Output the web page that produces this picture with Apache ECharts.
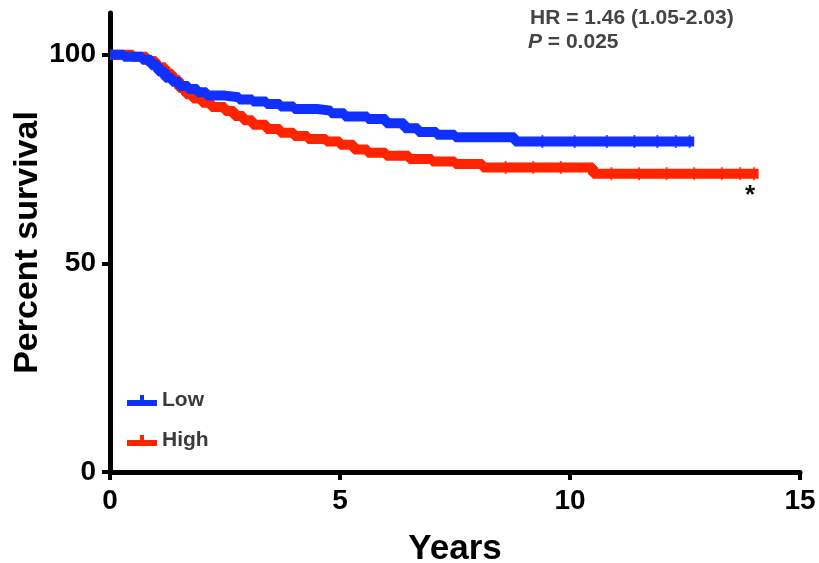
<!DOCTYPE html>
<html>
<head>
<meta charset="utf-8">
<script src="https://cdn.jsdelivr.net/npm/echarts@6/dist/echarts.min.js"></script>
<style>
  html, body { margin: 0; padding: 0; background: #fff; }
  #chart { width: 819px; height: 563px; }
</style>
</head>
<body>
<div id="chart"></div>
<script>
// survival curves (years, percent)
const lowTimes = [0, 0.3, 0.7, 0.9, 1.05, 1.2, 1.35, 1.5, 1.7, 1.9, 2.1, 2.5, 2.8, 3.1, 3.4, 3.7, 4.0, 4.5, 4.8, 5.1, 5.6, 6.0, 6.4, 6.7, 7.1, 7.5, 8.8, 12.7];
const lowSurv  = [100, 99.5, 98.8, 97.5, 96, 94.5, 93.5, 92.5, 91.8, 91, 90.2, 89.8, 89.3, 88.8, 88.2, 87.6, 87.0, 86.6, 86.0, 85.2, 84.6, 83.6, 82.4, 81.5, 80.8, 80.2, 79.2, 79.2];
const highTimes = [0, 0.5, 0.8, 1.0, 1.2, 1.35, 1.5, 1.65, 1.8, 2.0, 2.2, 2.5, 2.7, 2.9, 3.1, 3.4, 3.7, 4.0, 4.3, 4.7, 5.0, 5.3, 5.6, 6.0, 6.5, 7.0, 7.5, 8.1, 10.5, 14.1];
const highSurv  = [100, 99.5, 98.5, 97, 95.5, 94, 92, 90.5, 89.5, 88.5, 87.5, 86.5, 85.3, 84.3, 83.2, 82.2, 81.3, 80.5, 79.8, 79.2, 78.4, 77.3, 76.5, 75.8, 75.0, 74.4, 73.8, 73.0, 71.5, 71.5];
// censoring ticks (years)
const lowCensor  = [9.4, 10.1, 10.8, 11.4, 11.9, 12.3, 12.6];
const highCensor = [8.6, 9.2, 9.8, 10.9, 11.5, 12.1, 12.7, 13.3, 13.7, 14.0];
const xTicks = [0, 5, 10, 15];
const yTicks = [0, 50, 100];

const BLUE = '#1030ff';
const RED = '#ff2400';
const FONT = '"Liberation Sans", Arial, Helvetica, sans-serif';

function pairs(t, s) {
  return t.map((v, i) => [v, s[i]]);
}
function survAt(t, s, x) {
  let k = 0;
  for (let i = 0; i < t.length; i++) if (t[i] <= x) k = i;
  return s[k];
}
function censorPts(t, s, c) {
  return c.map(x => [x, survAt(t, s, x)]);
}

const chart = echarts.init(document.getElementById('chart'));
chart.setOption({
  animation: false,
  backgroundColor: '#fff',
  grid: { left: 110, right: 19, top: 13, bottom: 91, outerBoundsMode: 'none', containLabel: false },
  xAxis: {
    type: 'value', min: 0, max: 15, interval: 5,
    name: 'Years', nameLocation: 'middle', nameGap: 60, nameMoveOverlap: false,
    nameTextStyle: { fontFamily: FONT, fontWeight: 'bold', fontSize: 35, color: '#000' },
    axisLine: { lineStyle: { color: '#000', width: 5 } },
    axisTick: { length: 8, lineStyle: { color: '#000', width: 4 } },
    axisLabel: { fontFamily: FONT, fontWeight: 'bold', fontSize: 28, color: '#000', margin: 15,
                 customValues: xTicks },
    splitLine: { show: false }
  },
  yAxis: {
    type: 'value', min: 0, max: 110,
    name: 'Percent survival', nameLocation: 'middle', nameGap: 65, nameRotate: 90, nameMoveOverlap: false,
    nameTextStyle: { fontFamily: FONT, fontWeight: 'bold', fontSize: 34, color: '#000' },
    axisLine: { show: true, lineStyle: { color: '#000', width: 5 } },
    axisTick: { show: true, length: 8, lineStyle: { color: '#000', width: 4 }, customValues: yTicks },
    axisLabel: { fontFamily: FONT, fontWeight: 'bold', fontSize: 28, color: '#000', margin: 14,
                 customValues: yTicks },
    splitLine: { show: false }
  },
  legend: {
    data: ['Low', 'High'],
    orient: 'vertical', left: 122, top: 385, itemGap: 19,
    itemWidth: 30, itemHeight: 13,
    icon: 'path://M0,5 H30 V11 H0 Z M13,0 H17 V5 H13 Z',
    textStyle: { fontFamily: FONT, fontWeight: 'bold', fontSize: 21, color: '#3a3a3a' }
  },
  graphic: [
    { type: 'text', left: 530, top: 8,
      style: { text: 'HR = 1.46 (1.05-2.03)', fontFamily: FONT, fontWeight: 'bold', fontSize: 21, fill: '#444' } },
    { type: 'text', left: 528, top: 32,
      style: { text: '{i|P} = 0.025', fontFamily: FONT, fontWeight: 'bold', fontSize: 21, fill: '#444',
               rich: { i: { fontStyle: 'italic', fontFamily: FONT, fontWeight: 'bold', fontSize: 21, fill: '#444' } } } },
    { type: 'text', left: 745, top: 183,
      style: { text: '*', fontFamily: FONT, fontWeight: 'bold', fontSize: 26, fill: '#111' } }
  ],
  series: [
    { name: 'High', type: 'line', step: 'end', showSymbol: false, color: RED,
      lineStyle: { width: 10, color: RED }, data: pairs(highTimes, highSurv), z: 2 },
    { name: 'High', type: 'scatter', symbol: 'rect', symbolSize: [2, 13], color: RED,
      itemStyle: { color: RED }, data: censorPts(highTimes, highSurv, highCensor), z: 2 },
    { name: 'Low', type: 'line', step: 'end', showSymbol: false, color: BLUE,
      lineStyle: { width: 10, color: BLUE }, data: pairs(lowTimes, lowSurv), z: 3 },
    { name: 'Low', type: 'scatter', symbol: 'rect', symbolSize: [2, 13], color: BLUE,
      itemStyle: { color: BLUE }, data: censorPts(lowTimes, lowSurv, lowCensor), z: 3 }
  ]
});
</script>
</body>
</html>
